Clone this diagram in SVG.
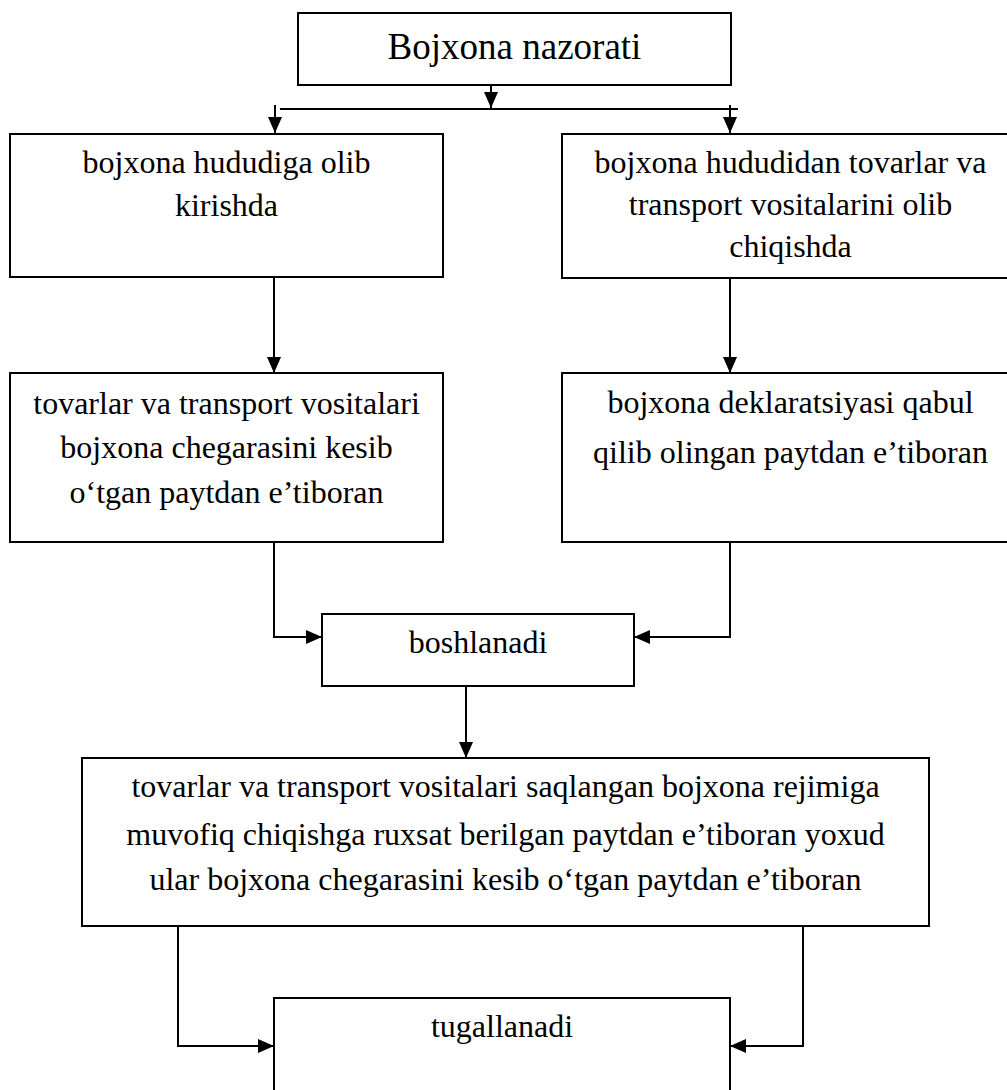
<svg xmlns="http://www.w3.org/2000/svg" width="1007" height="1090" viewBox="0 0 1007 1090">
<style>
.box{fill:#fff;stroke:#000;stroke-width:2}
.t{font-family:"Liberation Serif","Times New Roman",serif;font-size:32px;fill:#000;text-anchor:middle}
.title{font-size:37px}
.c{fill:none;stroke:#000;stroke-width:2}
</style>
<defs>
<marker id="ah" markerWidth="16" markerHeight="14" refX="16" refY="7" orient="auto" markerUnits="userSpaceOnUse">
<path d="M0,0 L16,7 L0,14 z" fill="#000"/>
</marker>
</defs>
<rect width="1007" height="1090" fill="#fff"/>
<g id="connectors">
<line class="c" x1="491" y1="85" x2="491" y2="108" marker-end="url(#ah)"/>
<line class="c" x1="280" y1="109" x2="738" y2="109"/>
<line class="c" x1="275" y1="105" x2="275" y2="133" marker-end="url(#ah)"/>
<line class="c" x1="730" y1="105" x2="730" y2="133" marker-end="url(#ah)"/>
<line class="c" x1="274" y1="277" x2="274" y2="373" marker-end="url(#ah)"/>
<line class="c" x1="730" y1="278" x2="730" y2="373" marker-end="url(#ah)"/>
<polyline class="c" points="274,542 274,637 322,637" marker-end="url(#ah)"/>
<polyline class="c" points="730,542 730,637 634,637" marker-end="url(#ah)"/>
<line class="c" x1="466" y1="686" x2="466" y2="758" marker-end="url(#ah)"/>
<polyline class="c" points="178,926 178,1046 274,1046" marker-end="url(#ah)"/>
<polyline class="c" points="803,926 803,1046 730,1046" marker-end="url(#ah)"/>
</g>
<g id="n-title">
<rect class="box" x="298" y="13" width="433" height="72"/>
<text class="t title" x="514.5" y="59">Bojxona nazorati</text>
</g>
<g id="n-kirish">
<rect class="box" x="10" y="134" width="433" height="143"/>
<text class="t" x="226.5" y="173">bojxona hududiga olib</text>
<text class="t" x="226.5" y="216">kirishda</text>
</g>
<g id="n-chiqish">
<rect class="box" x="562" y="134" width="458" height="144"/>
<text class="t" x="790.5" y="173">bojxona hududidan tovarlar va</text>
<text class="t" x="790.5" y="215">transport vositalarini olib</text>
<text class="t" x="790.5" y="257">chiqishda</text>
</g>
<g id="n-chegara">
<rect class="box" x="10" y="373" width="433" height="169"/>
<text class="t" x="226.5" y="414">tovarlar va transport vositalari</text>
<text class="t" x="226.5" y="458">bojxona chegarasini kesib</text>
<text class="t" x="226.5" y="503">o‘tgan paytdan e’tiboran</text>
</g>
<g id="n-deklaratsiya">
<rect class="box" x="562" y="373" width="458" height="169"/>
<text class="t" x="790.5" y="413">bojxona deklaratsiyasi qabul</text>
<text class="t" x="790.5" y="463">qilib olingan paytdan e’tiboran</text>
</g>
<g id="n-boshlanadi">
<rect class="box" x="322" y="614" width="312" height="72"/>
<text class="t" x="478" y="653">boshlanadi</text>
</g>
<g id="n-rejim">
<rect class="box" x="82" y="758" width="847" height="168"/>
<text class="t" x="505.5" y="797">tovarlar va transport vositalari saqlangan bojxona rejimiga</text>
<text class="t" x="505.5" y="845">muvofiq chiqishga ruxsat berilgan paytdan e’tiboran yoxud</text>
<text class="t" x="505.5" y="890">ular bojxona chegarasini kesib o‘tgan paytdan e’tiboran</text>
</g>
<g id="n-tugallanadi">
<rect class="box" x="274" y="998" width="456" height="110"/>
<text class="t" x="502" y="1037">tugallanadi</text>
</g>
</svg>
